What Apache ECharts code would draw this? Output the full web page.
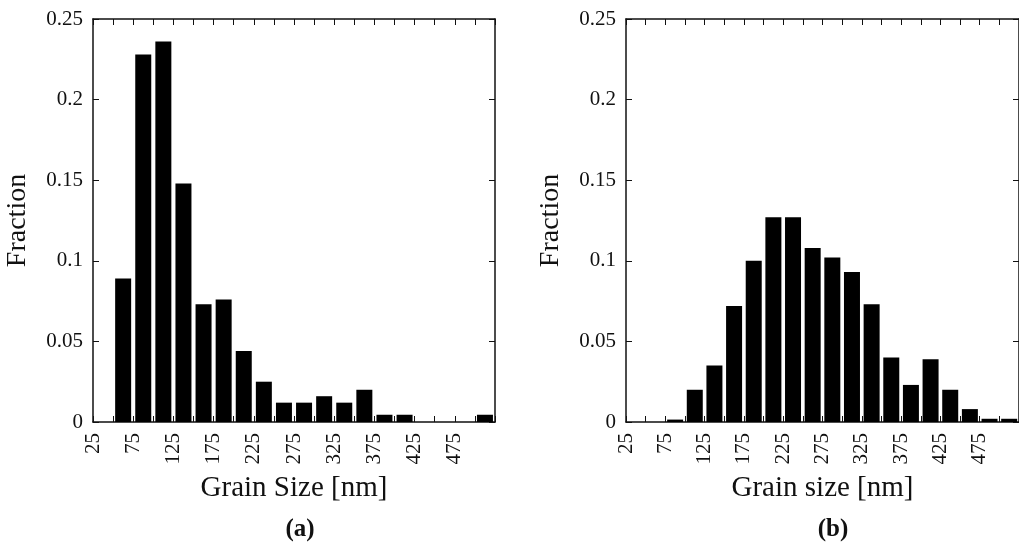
<!DOCTYPE html>
<html>
<head>
<meta charset="utf-8">
<script src="https://cdn.jsdelivr.net/npm/echarts@6/dist/echarts.min.js"></script>
<style>html,body{margin:0;padding:0;background:#fff}#c{width:1019px;height:543px}</style>
</head>
<body>
<div id="c"></div>
<script>
// Bin start values (nm), bin width 25
const binStarts = [25,50,75,100,125,150,175,200,225,250,275,300,325,350,375,400,425,450,475,500];
const binWidth = 25;
// Panel (a) fractions
const fractionA = [0,0.089,0.228,0.236,0.148,0.073,0.076,0.044,0.025,0.012,0.012,0.016,0.012,0.020,0.0045,0.0045,0,0,0,0.0045];
// Panel (b) fractions
const fractionB = [0,0,0.0015,0.020,0.035,0.072,0.100,0.127,0.127,0.108,0.102,0.093,0.073,0.040,0.023,0.039,0.020,0.008,0.002,0.002];
const xTickLabels = ['25','75','125','175','225','275','325','375','425','475'];
const yTicks = ['0','0.05','0.1','0.15','0.2','0.25'];
const xNames = ['Grain Size [nm]','Grain size [nm]'];
const panelLabels = ['(a)','(b)'];
const yName = 'Fraction';

const FONT = 'Liberation Serif';
const INK = '#111';
const chart = echarts.init(document.getElementById('c'));

const grids = [
  {left: 93, top: 19, width: 402, height: 403},
  {left: 626, top: 19, width: 402, height: 403}
];
function line() { return {show: true, onZero: false, lineStyle: {color: INK, width: 1.5}}; }
function tick() { return {show: true, inside: true, length: 6, lineStyle: {color: INK, width: 1}}; }
const xAxes = [], yAxes = [], series = [], titles = [];
[fractionA, fractionB].forEach((vals, g) => {
  xAxes.push({
    gridIndex: g, type: 'value', position: 'bottom', min: 25, max: 525, interval: 25,
    axisLine: line(), axisTick: tick(), splitLine: {show: false},
    axisLabel: {rotate: 90, margin: 11, color: INK, fontFamily: FONT, fontSize: 21,
      formatter: v => xTickLabels.includes(String(v)) ? String(v) : ''},
    name: xNames[g], nameLocation: 'middle', nameGap: 52,
    nameTextStyle: {color: INK, fontFamily: FONT, fontSize: 29}
  });
  xAxes.push({
    gridIndex: g, type: 'value', position: 'top', min: 25, max: 525, interval: 25,
    axisLine: line(), axisTick: tick(), splitLine: {show: false}, axisLabel: {show: false}
  });
  yAxes.push({
    gridIndex: g, type: 'value', position: 'left', min: 0, max: 0.25, interval: 0.05,
    axisLine: line(), axisTick: tick(), splitLine: {show: false},
    axisLabel: {margin: 10, color: INK, fontFamily: FONT, fontSize: 21,
      formatter: v => yTicks.find(t => Math.abs(parseFloat(t) - v) < 1e-9) || ''},
    name: yName, nameLocation: 'middle', nameGap: 61, nameRotate: 90,
    nameTextStyle: {color: INK, fontFamily: FONT, fontSize: 28}
  });
  yAxes.push({
    gridIndex: g, type: 'value', position: 'right', min: 0, max: 0.25, interval: 0.05,
    axisLine: line(), axisTick: tick(), splitLine: {show: false}, axisLabel: {show: false}
  });
  series.push({
    type: 'bar', xAxisIndex: g * 2, yAxisIndex: g * 2, barWidth: 16,
    itemStyle: {color: '#000'}, silent: true,
    data: binStarts.map((s, i) => [s + binWidth / 2, vals[i]])
  });
  titles.push({
    text: panelLabels[g], left: grids[g].left + 202, top: 512, textAlign: 'center',
    textStyle: {color: INK, fontFamily: FONT, fontSize: 25, fontWeight: 'bold'}
  });
});

chart.setOption({
  animation: false,
  backgroundColor: '#fff',
  title: titles,
  grid: grids,
  xAxis: xAxes,
  yAxis: yAxes,
  series: series
});
</script>
</body>
</html>
